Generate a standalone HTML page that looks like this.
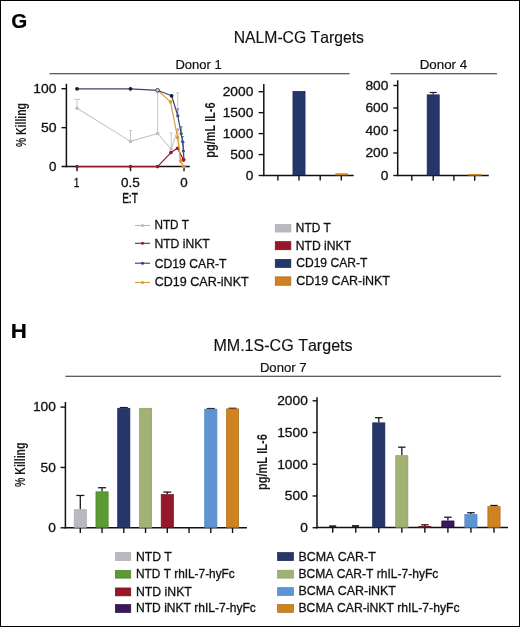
<!DOCTYPE html>
<html><head><meta charset="utf-8"><style>
html,body{margin:0;padding:0;background:#fff;}
svg{display:block;}
text{font-family:"Liberation Sans",sans-serif;font-kerning:none;}
</style></head><body>
<div style="will-change:transform;width:520px;height:627px"><svg width="520" height="627" viewBox="0 0 520 627">
<rect x="0.5" y="0.5" width="519" height="626" fill="none" stroke="#000" stroke-width="1"/>
<text x="11.26" y="28.40" font-size="20.3" textLength="16.02" lengthAdjust="spacingAndGlyphs" font-weight="bold" fill="#000" stroke="#000" stroke-width="0.2" >G</text>
<text x="233.71" y="42.90" font-size="16.5" textLength="130.16" lengthAdjust="spacingAndGlyphs" fill="#111" stroke="#111" stroke-width="0.15" >NALM-CG Targets</text>
<text x="175.43" y="69.40" font-size="12.8" textLength="46.20" lengthAdjust="spacingAndGlyphs" fill="#111" stroke="#111" stroke-width="0.2" >Donor 1</text>
<text x="419.71" y="69.40" font-size="12.8" textLength="47.49" lengthAdjust="spacingAndGlyphs" fill="#111" stroke="#111" stroke-width="0.2" >Donor 4</text>
<line x1="49.60" y1="73.70" x2="349.60" y2="73.70" stroke="#2a2a2a" stroke-width="1.1"/>
<line x1="390.40" y1="73.70" x2="497.00" y2="73.70" stroke="#2a2a2a" stroke-width="1.1"/>
<line x1="66.40" y1="83.80" x2="66.40" y2="167.30" stroke="#111" stroke-width="1.5"/>
<line x1="61.50" y1="166.60" x2="189.80" y2="166.60" stroke="#111" stroke-width="1.5"/>
<line x1="61.50" y1="88.70" x2="66.40" y2="88.70" stroke="#111" stroke-width="1.4"/>
<line x1="61.50" y1="127.65" x2="66.40" y2="127.65" stroke="#111" stroke-width="1.4"/>
<line x1="77.00" y1="166.60" x2="77.00" y2="171.20" stroke="#111" stroke-width="1.4"/>
<line x1="130.50" y1="166.60" x2="130.50" y2="171.20" stroke="#111" stroke-width="1.4"/>
<line x1="184.00" y1="166.60" x2="184.00" y2="171.20" stroke="#111" stroke-width="1.4"/>
<text x="33.34" y="92.90" font-size="12.4" textLength="23.20" lengthAdjust="spacingAndGlyphs" fill="#111" stroke="#111" stroke-width="0.3" >100</text>
<text x="40.94" y="131.90" font-size="12.4" textLength="15.61" lengthAdjust="spacingAndGlyphs" fill="#111" stroke="#111" stroke-width="0.3" >50</text>
<text x="49.08" y="170.90" font-size="12.4" textLength="7.45" lengthAdjust="spacingAndGlyphs" fill="#111" stroke="#111" stroke-width="0.3" >0</text>
<text x="73.82" y="186.50" font-size="12.4" textLength="5.68" lengthAdjust="spacingAndGlyphs" fill="#111" stroke="#111" stroke-width="0.3" >1</text>
<text x="120.97" y="186.50" font-size="12.4" textLength="18.80" lengthAdjust="spacingAndGlyphs" fill="#111" stroke="#111" stroke-width="0.3" >0.5</text>
<text x="180.28" y="186.50" font-size="12.4" textLength="7.45" lengthAdjust="spacingAndGlyphs" fill="#111" stroke="#111" stroke-width="0.3" >0</text>
<text x="122.17" y="202.70" font-size="15.0" textLength="15.66" lengthAdjust="spacingAndGlyphs" fill="#111" stroke="#111" stroke-width="0.5" >E:T</text>
<text transform="translate(26.00,146.80) rotate(-90)" x="-0.26" y="0" font-size="14.6" textLength="43.96" lengthAdjust="spacingAndGlyphs" font-weight="bold" fill="#1a1a1a">% Killing</text>
<line x1="77.00" y1="108.20" x2="77.00" y2="99.30" stroke="#c6c6ca" stroke-width="1.0"/><line x1="74.00" y1="99.30" x2="80.00" y2="99.30" stroke="#c6c6ca" stroke-width="1.0"/>
<line x1="130.50" y1="141.40" x2="130.50" y2="130.60" stroke="#c6c6ca" stroke-width="1.0"/><line x1="128.90" y1="130.60" x2="132.10" y2="130.60" stroke="#c6c6ca" stroke-width="1.0"/>
<line x1="157.60" y1="133.50" x2="157.60" y2="92.90" stroke="#c6c6ca" stroke-width="1.0"/><line x1="156.00" y1="92.90" x2="159.20" y2="92.90" stroke="#c6c6ca" stroke-width="1.0"/>
<line x1="171.20" y1="149.00" x2="171.20" y2="133.00" stroke="#c6c6ca" stroke-width="1.0"/><line x1="169.60" y1="133.00" x2="172.80" y2="133.00" stroke="#c6c6ca" stroke-width="1.0"/>
<line x1="177.70" y1="109.00" x2="177.70" y2="92.90" stroke="#c6c6ca" stroke-width="1.0"/><line x1="176.10" y1="92.90" x2="179.30" y2="92.90" stroke="#c6c6ca" stroke-width="1.0"/>
<polyline points="77.00,108.20 130.50,141.40 157.60,133.50 171.20,149.00 177.70,129.80 180.50,162.60 183.20,164.50" fill="none" stroke="#c6c6ca" stroke-width="1.1" stroke-linejoin="round"/>
<circle cx="77.00" cy="108.20" r="1.8" fill="#bdbdc1"/><circle cx="130.50" cy="141.40" r="1.8" fill="#bdbdc1"/><circle cx="157.60" cy="133.50" r="1.8" fill="#bdbdc1"/><circle cx="171.20" cy="149.00" r="1.8" fill="#bdbdc1"/><circle cx="177.70" cy="129.80" r="1.8" fill="#bdbdc1"/>
<polyline points="77.00,166.60 130.50,166.60 157.60,166.60 170.90,152.60 177.60,148.30 183.50,159.80" fill="none" stroke="#8f1a2a" stroke-width="1.2" stroke-linejoin="round"/>
<circle cx="77.00" cy="166.60" r="1.8" fill="#8f1a2a"/><circle cx="130.50" cy="166.60" r="1.8" fill="#8f1a2a"/><circle cx="157.60" cy="166.60" r="1.8" fill="#8f1a2a"/><circle cx="170.90" cy="152.60" r="1.8" fill="#8f1a2a"/><circle cx="177.60" cy="148.30" r="1.8" fill="#8f1a2a"/>
<circle cx="183.5" cy="159.8" r="2.1" fill="#b0141e"/>
<polyline points="157.60,90.30 170.50,101.90 177.60,137.60 180.60,161.00 183.70,166.60" fill="none" stroke="#dc9a3c" stroke-width="1.2" stroke-linejoin="round"/>
<circle cx="170.50" cy="101.90" r="1.8" fill="#dc9a3c"/><circle cx="177.60" cy="137.60" r="1.8" fill="#dc9a3c"/><circle cx="180.60" cy="161.00" r="1.8" fill="#dc9a3c"/><circle cx="183.70" cy="166.60" r="1.8" fill="#dc9a3c"/>
<line x1="177.80" y1="115.80" x2="177.80" y2="109.00" stroke="#3a5a9a" stroke-width="0.8"/><line x1="176.50" y1="109.00" x2="179.10" y2="109.00" stroke="#3a5a9a" stroke-width="0.8"/>
<line x1="181.20" y1="133.80" x2="181.20" y2="126.80" stroke="#3a5a9a" stroke-width="0.8"/><line x1="179.90" y1="126.80" x2="182.50" y2="126.80" stroke="#3a5a9a" stroke-width="0.8"/>
<line x1="182.50" y1="141.50" x2="182.50" y2="136.50" stroke="#3a5a9a" stroke-width="0.8"/><line x1="181.20" y1="136.50" x2="183.80" y2="136.50" stroke="#3a5a9a" stroke-width="0.8"/>
<line x1="183.40" y1="151.00" x2="183.40" y2="142.50" stroke="#3a5a9a" stroke-width="0.8"/><line x1="182.10" y1="142.50" x2="184.70" y2="142.50" stroke="#3a5a9a" stroke-width="0.8"/>
<polyline points="77.00,88.80 130.50,88.80 157.60,90.30 171.60,95.80 177.80,115.80 181.20,133.80 182.50,141.50 183.40,151.00 184.00,160.00" fill="none" stroke="#3a4666" stroke-width="1.2" stroke-linejoin="round"/>
<circle cx="77.00" cy="88.80" r="1.9" fill="#141c3a"/><circle cx="130.50" cy="88.80" r="1.9" fill="#141c3a"/><circle cx="171.60" cy="95.80" r="1.9" fill="#141c3a"/>
<circle cx="177.80" cy="115.80" r="1.6" fill="#34508a"/><circle cx="181.20" cy="133.80" r="1.6" fill="#34508a"/><circle cx="182.50" cy="141.50" r="1.6" fill="#34508a"/><circle cx="183.40" cy="151.00" r="1.6" fill="#34508a"/>
<circle cx="157.5" cy="90.2" r="1.8" fill="#dde" stroke="#1c2444" stroke-width="0.9"/>
<line x1="263.80" y1="84.00" x2="263.80" y2="176.00" stroke="#111" stroke-width="1.5"/>
<line x1="263.10" y1="175.40" x2="353.70" y2="175.40" stroke="#111" stroke-width="1.5"/>
<line x1="258.60" y1="175.50" x2="263.80" y2="175.50" stroke="#111" stroke-width="1.4"/>
<text x="245.68" y="179.80" font-size="12.4" textLength="7.65" lengthAdjust="spacingAndGlyphs" fill="#111" stroke="#111" stroke-width="0.3" >0</text>
<line x1="258.60" y1="154.55" x2="263.80" y2="154.55" stroke="#111" stroke-width="1.4"/>
<text x="230.37" y="158.85" font-size="12.4" textLength="22.96" lengthAdjust="spacingAndGlyphs" fill="#111" stroke="#111" stroke-width="0.3" >500</text>
<line x1="258.60" y1="133.60" x2="263.80" y2="133.60" stroke="#111" stroke-width="1.4"/>
<text x="222.72" y="137.90" font-size="12.4" textLength="30.62" lengthAdjust="spacingAndGlyphs" fill="#111" stroke="#111" stroke-width="0.3" >1000</text>
<line x1="258.60" y1="112.65" x2="263.80" y2="112.65" stroke="#111" stroke-width="1.4"/>
<text x="222.72" y="116.95" font-size="12.4" textLength="30.62" lengthAdjust="spacingAndGlyphs" fill="#111" stroke="#111" stroke-width="0.3" >1500</text>
<line x1="258.60" y1="91.70" x2="263.80" y2="91.70" stroke="#111" stroke-width="1.4"/>
<text x="222.72" y="96.00" font-size="12.4" textLength="30.62" lengthAdjust="spacingAndGlyphs" fill="#111" stroke="#111" stroke-width="0.3" >2000</text>
<line x1="277.90" y1="175.40" x2="277.90" y2="180.50" stroke="#111" stroke-width="1.4"/>
<line x1="299.00" y1="175.40" x2="299.00" y2="180.50" stroke="#111" stroke-width="1.4"/>
<line x1="320.20" y1="175.40" x2="320.20" y2="180.50" stroke="#111" stroke-width="1.4"/>
<line x1="341.30" y1="175.40" x2="341.30" y2="180.50" stroke="#111" stroke-width="1.4"/>
<rect x="292.95" y="91.35" width="12.10" height="83.70" fill="#25366b" stroke="#1a2850" stroke-width="0.7"/>
<rect x="335.40" y="173.30" width="12.60" height="2.00" fill="#cf821f"/>
<text transform="translate(214.50,157.00) rotate(-90)" x="-0.72" y="0" font-size="14.8" textLength="55.32" lengthAdjust="spacingAndGlyphs" font-weight="bold" fill="#1a1a1a">pg/mL IL-6</text>
<line x1="397.70" y1="80.30" x2="397.70" y2="176.10" stroke="#111" stroke-width="1.5"/>
<line x1="397.00" y1="175.50" x2="488.80" y2="175.50" stroke="#111" stroke-width="1.5"/>
<line x1="393.30" y1="175.50" x2="397.70" y2="175.50" stroke="#111" stroke-width="1.4"/>
<text x="380.78" y="179.80" font-size="12.4" textLength="7.65" lengthAdjust="spacingAndGlyphs" fill="#111" stroke="#111" stroke-width="0.3" >0</text>
<line x1="393.30" y1="153.00" x2="397.70" y2="153.00" stroke="#111" stroke-width="1.4"/>
<text x="365.47" y="157.30" font-size="12.4" textLength="22.96" lengthAdjust="spacingAndGlyphs" fill="#111" stroke="#111" stroke-width="0.3" >200</text>
<line x1="393.30" y1="130.50" x2="397.70" y2="130.50" stroke="#111" stroke-width="1.4"/>
<text x="365.47" y="134.80" font-size="12.4" textLength="22.96" lengthAdjust="spacingAndGlyphs" fill="#111" stroke="#111" stroke-width="0.3" >400</text>
<line x1="393.30" y1="108.00" x2="397.70" y2="108.00" stroke="#111" stroke-width="1.4"/>
<text x="365.47" y="112.30" font-size="12.4" textLength="22.96" lengthAdjust="spacingAndGlyphs" fill="#111" stroke="#111" stroke-width="0.3" >600</text>
<line x1="393.30" y1="85.50" x2="397.70" y2="85.50" stroke="#111" stroke-width="1.4"/>
<text x="365.47" y="89.80" font-size="12.4" textLength="22.96" lengthAdjust="spacingAndGlyphs" fill="#111" stroke="#111" stroke-width="0.3" >800</text>
<line x1="411.80" y1="175.50" x2="411.80" y2="180.80" stroke="#111" stroke-width="1.4"/>
<line x1="433.20" y1="175.50" x2="433.20" y2="180.80" stroke="#111" stroke-width="1.4"/>
<line x1="453.90" y1="175.50" x2="453.90" y2="180.80" stroke="#111" stroke-width="1.4"/>
<line x1="474.70" y1="175.50" x2="474.70" y2="180.80" stroke="#111" stroke-width="1.4"/>
<line x1="433.20" y1="94.60" x2="433.20" y2="92.50" stroke="#1a2030" stroke-width="1.2"/><line x1="429.70" y1="92.50" x2="436.70" y2="92.50" stroke="#1a2030" stroke-width="1.2"/>
<rect x="427.15" y="94.85" width="12.10" height="80.30" fill="#25366b" stroke="#1a2850" stroke-width="0.7"/>
<rect x="468.20" y="174.00" width="13.20" height="1.60" fill="#cf821f"/>
<line x1="135.00" y1="225.50" x2="150.00" y2="225.50" stroke="#b8b8bc" stroke-width="1.1"/>
<circle cx="142.5" cy="225.5" r="1.5" fill="#b8b8bc"/>
<line x1="135.00" y1="243.30" x2="150.00" y2="243.30" stroke="#8f1a2a" stroke-width="1.1"/>
<circle cx="142.5" cy="243.3" r="1.5" fill="#8f1a2a"/>
<line x1="135.00" y1="263.20" x2="150.00" y2="263.20" stroke="#2b4074" stroke-width="1.1"/>
<circle cx="142.5" cy="263.2" r="1.5" fill="#2b4074"/>
<line x1="135.00" y1="282.50" x2="150.00" y2="282.50" stroke="#d99a3a" stroke-width="1.1"/>
<circle cx="142.5" cy="282.5" r="1.5" fill="#d99a3a"/>
<text x="154.44" y="229.00" font-size="12.4" textLength="34.58" lengthAdjust="spacingAndGlyphs" fill="#111" stroke="#111" stroke-width="0.3" >NTD T</text>
<text x="154.40" y="247.60" font-size="12.4" textLength="55.38" lengthAdjust="spacingAndGlyphs" fill="#111" stroke="#111" stroke-width="0.3" >NTD iNKT</text>
<text x="154.78" y="267.70" font-size="12.4" textLength="71.70" lengthAdjust="spacingAndGlyphs" fill="#111" stroke="#111" stroke-width="0.3" >CD19 CAR-T</text>
<text x="154.76" y="286.30" font-size="12.4" textLength="93.92" lengthAdjust="spacingAndGlyphs" fill="#111" stroke="#111" stroke-width="0.3" >CD19 CAR-iNKT</text>
<rect x="275.25" y="224.55" width="15.60" height="7.50" fill="#bab9c0" stroke="#acabb3" stroke-width="0.7"/>
<text x="295.83" y="232.20" font-size="12.4" textLength="34.95" lengthAdjust="spacingAndGlyphs" fill="#111" stroke="#111" stroke-width="0.3" >NTD T</text>
<rect x="275.25" y="241.65" width="15.60" height="8.10" fill="#961828" stroke="#70101e" stroke-width="0.7"/>
<text x="295.80" y="249.60" font-size="12.4" textLength="55.27" lengthAdjust="spacingAndGlyphs" fill="#111" stroke="#111" stroke-width="0.3" >NTD iNKT</text>
<rect x="275.25" y="259.35" width="15.60" height="8.10" fill="#25366b" stroke="#1a2850" stroke-width="0.7"/>
<text x="296.19" y="267.40" font-size="12.4" textLength="71.19" lengthAdjust="spacingAndGlyphs" fill="#111" stroke="#111" stroke-width="0.3" >CD19 CAR-T</text>
<rect x="275.25" y="276.85" width="15.60" height="8.40" fill="#cf821f" stroke="#a86a1c" stroke-width="0.7"/>
<text x="296.16" y="285.10" font-size="12.4" textLength="93.82" lengthAdjust="spacingAndGlyphs" fill="#111" stroke="#111" stroke-width="0.3" >CD19 CAR-iNKT</text>
<text x="10.81" y="338.00" font-size="20.3" textLength="16.09" lengthAdjust="spacingAndGlyphs" font-weight="bold" fill="#000" stroke="#000" stroke-width="0.2" >H</text>
<text x="213.38" y="351.20" font-size="16.5" textLength="139.20" lengthAdjust="spacingAndGlyphs" fill="#111" stroke="#111" stroke-width="0.15" >MM.1S-CG Targets</text>
<text x="259.92" y="371.80" font-size="12.8" textLength="46.63" lengthAdjust="spacingAndGlyphs" fill="#111" stroke="#111" stroke-width="0.2" >Donor 7</text>
<line x1="65.40" y1="376.20" x2="501.00" y2="376.20" stroke="#2a2a2a" stroke-width="1.1"/>
<line x1="65.40" y1="402.00" x2="65.40" y2="528.50" stroke="#111" stroke-width="1.5"/>
<line x1="64.70" y1="527.80" x2="246.90" y2="527.80" stroke="#111" stroke-width="1.5"/>
<line x1="60.50" y1="527.80" x2="65.40" y2="527.80" stroke="#111" stroke-width="1.4"/>
<text x="48.28" y="532.10" font-size="12.4" textLength="7.65" lengthAdjust="spacingAndGlyphs" fill="#111" stroke="#111" stroke-width="0.3" >0</text>
<line x1="60.50" y1="467.45" x2="65.40" y2="467.45" stroke="#111" stroke-width="1.4"/>
<text x="40.63" y="471.75" font-size="12.4" textLength="15.31" lengthAdjust="spacingAndGlyphs" fill="#111" stroke="#111" stroke-width="0.3" >50</text>
<line x1="60.50" y1="407.10" x2="65.40" y2="407.10" stroke="#111" stroke-width="1.4"/>
<text x="32.97" y="411.40" font-size="12.4" textLength="22.96" lengthAdjust="spacingAndGlyphs" fill="#111" stroke="#111" stroke-width="0.3" >100</text>
<line x1="80.30" y1="527.80" x2="80.30" y2="533.00" stroke="#111" stroke-width="1.4"/>
<line x1="102.05" y1="527.80" x2="102.05" y2="533.00" stroke="#111" stroke-width="1.4"/>
<line x1="123.80" y1="527.80" x2="123.80" y2="533.00" stroke="#111" stroke-width="1.4"/>
<line x1="145.55" y1="527.80" x2="145.55" y2="533.00" stroke="#111" stroke-width="1.4"/>
<line x1="167.30" y1="527.80" x2="167.30" y2="533.00" stroke="#111" stroke-width="1.4"/>
<line x1="189.05" y1="527.80" x2="189.05" y2="533.00" stroke="#111" stroke-width="1.4"/>
<line x1="210.80" y1="527.80" x2="210.80" y2="533.00" stroke="#111" stroke-width="1.4"/>
<line x1="232.55" y1="527.80" x2="232.55" y2="533.00" stroke="#111" stroke-width="1.4"/>
<line x1="80.30" y1="509.33" x2="80.30" y2="495.45" stroke="#1a1a1a" stroke-width="1.3"/><line x1="76.30" y1="495.45" x2="84.30" y2="495.45" stroke="#1a1a1a" stroke-width="1.3"/>
<rect x="74.20" y="509.68" width="12.20" height="17.77" fill="#bab9c0" stroke="#acabb3" stroke-width="0.7"/>
<line x1="102.05" y1="491.47" x2="102.05" y2="487.73" stroke="#1a1a1a" stroke-width="1.3"/><line x1="98.05" y1="487.73" x2="106.05" y2="487.73" stroke="#1a1a1a" stroke-width="1.3"/>
<rect x="95.95" y="491.82" width="12.20" height="35.63" fill="#5a9b33" stroke="#48822a" stroke-width="0.7"/>
<line x1="123.80" y1="407.94" x2="123.80" y2="407.58" stroke="#1a1a1a" stroke-width="1.3"/><line x1="119.80" y1="407.58" x2="127.80" y2="407.58" stroke="#1a1a1a" stroke-width="1.3"/>
<rect x="117.70" y="408.29" width="12.20" height="119.16" fill="#25366b" stroke="#1a2850" stroke-width="0.7"/>
<rect x="139.45" y="408.29" width="12.20" height="119.16" fill="#a2b275" stroke="#8f9d68" stroke-width="0.7"/>
<line x1="167.30" y1="494.25" x2="167.30" y2="492.07" stroke="#1a1a1a" stroke-width="1.3"/><line x1="163.30" y1="492.07" x2="171.30" y2="492.07" stroke="#1a1a1a" stroke-width="1.3"/>
<rect x="161.20" y="494.60" width="12.20" height="32.85" fill="#961828" stroke="#70101e" stroke-width="0.7"/>
<line x1="210.80" y1="408.79" x2="210.80" y2="408.55" stroke="#1a1a1a" stroke-width="1.3"/><line x1="206.80" y1="408.55" x2="214.80" y2="408.55" stroke="#1a1a1a" stroke-width="1.3"/>
<rect x="204.70" y="409.14" width="12.20" height="118.31" fill="#5f94d2" stroke="#5581bd" stroke-width="0.7"/>
<line x1="232.55" y1="408.55" x2="232.55" y2="408.31" stroke="#1a1a1a" stroke-width="1.3"/><line x1="228.55" y1="408.31" x2="236.55" y2="408.31" stroke="#1a1a1a" stroke-width="1.3"/>
<rect x="226.45" y="408.90" width="12.20" height="118.55" fill="#cf821f" stroke="#a86a1c" stroke-width="0.7"/>
<text transform="translate(24.80,486.70) rotate(-90)" x="-0.26" y="0" font-size="14.6" textLength="44.36" lengthAdjust="spacingAndGlyphs" font-weight="bold" fill="#1a1a1a">% Killing</text>
<line x1="317.00" y1="397.20" x2="317.00" y2="528.40" stroke="#111" stroke-width="1.5"/>
<line x1="316.30" y1="527.60" x2="508.10" y2="527.60" stroke="#111" stroke-width="1.5"/>
<line x1="312.60" y1="527.70" x2="317.00" y2="527.70" stroke="#111" stroke-width="1.4"/>
<text x="300.18" y="532.00" font-size="12.4" textLength="7.65" lengthAdjust="spacingAndGlyphs" fill="#111" stroke="#111" stroke-width="0.3" >0</text>
<line x1="312.60" y1="495.98" x2="317.00" y2="495.98" stroke="#111" stroke-width="1.4"/>
<text x="284.87" y="500.28" font-size="12.4" textLength="22.96" lengthAdjust="spacingAndGlyphs" fill="#111" stroke="#111" stroke-width="0.3" >500</text>
<line x1="312.60" y1="464.25" x2="317.00" y2="464.25" stroke="#111" stroke-width="1.4"/>
<text x="277.22" y="468.55" font-size="12.4" textLength="30.62" lengthAdjust="spacingAndGlyphs" fill="#111" stroke="#111" stroke-width="0.3" >1000</text>
<line x1="312.60" y1="432.53" x2="317.00" y2="432.53" stroke="#111" stroke-width="1.4"/>
<text x="277.22" y="436.83" font-size="12.4" textLength="30.62" lengthAdjust="spacingAndGlyphs" fill="#111" stroke="#111" stroke-width="0.3" >1500</text>
<line x1="312.60" y1="400.80" x2="317.00" y2="400.80" stroke="#111" stroke-width="1.4"/>
<text x="277.22" y="405.10" font-size="12.4" textLength="30.62" lengthAdjust="spacingAndGlyphs" fill="#111" stroke="#111" stroke-width="0.3" >2000</text>
<line x1="332.70" y1="527.60" x2="332.70" y2="532.80" stroke="#111" stroke-width="1.4"/>
<line x1="355.74" y1="527.60" x2="355.74" y2="532.80" stroke="#111" stroke-width="1.4"/>
<line x1="378.78" y1="527.60" x2="378.78" y2="532.80" stroke="#111" stroke-width="1.4"/>
<line x1="401.82" y1="527.60" x2="401.82" y2="532.80" stroke="#111" stroke-width="1.4"/>
<line x1="424.86" y1="527.60" x2="424.86" y2="532.80" stroke="#111" stroke-width="1.4"/>
<line x1="447.90" y1="527.60" x2="447.90" y2="532.80" stroke="#111" stroke-width="1.4"/>
<line x1="470.94" y1="527.60" x2="470.94" y2="532.80" stroke="#111" stroke-width="1.4"/>
<line x1="493.98" y1="527.60" x2="493.98" y2="532.80" stroke="#111" stroke-width="1.4"/>
<rect x="329.20" y="525.30" width="7.00" height="1.80" fill="#222"/>
<rect x="352.00" y="525.00" width="7.00" height="2.00" fill="#2c3520"/>
<line x1="378.78" y1="422.50" x2="378.78" y2="417.68" stroke="#1a1a1a" stroke-width="1.3"/><line x1="375.03" y1="417.68" x2="382.53" y2="417.68" stroke="#1a1a1a" stroke-width="1.3"/>
<rect x="372.68" y="422.85" width="12.20" height="104.40" fill="#25366b" stroke="#1a2850" stroke-width="0.7"/>
<line x1="401.82" y1="455.30" x2="401.82" y2="447.18" stroke="#1a1a1a" stroke-width="1.3"/><line x1="398.07" y1="447.18" x2="405.57" y2="447.18" stroke="#1a1a1a" stroke-width="1.3"/>
<rect x="395.72" y="455.65" width="12.20" height="71.60" fill="#a2b275" stroke="#8f9d68" stroke-width="0.7"/>
<line x1="424.86" y1="526.11" x2="424.86" y2="524.84" stroke="#1a1a1a" stroke-width="1.3"/><line x1="421.11" y1="524.84" x2="428.61" y2="524.84" stroke="#1a1a1a" stroke-width="1.3"/>
<rect x="418.76" y="526.46" width="12.20" height="0.79" fill="#961828" stroke="#70101e" stroke-width="0.7"/>
<line x1="447.90" y1="520.59" x2="447.90" y2="517.23" stroke="#1a1a1a" stroke-width="1.3"/><line x1="444.15" y1="517.23" x2="451.65" y2="517.23" stroke="#1a1a1a" stroke-width="1.3"/>
<rect x="441.80" y="520.94" width="12.20" height="6.31" fill="#38195c" stroke="#250d40" stroke-width="0.7"/>
<line x1="470.94" y1="514.12" x2="470.94" y2="512.73" stroke="#1a1a1a" stroke-width="1.3"/><line x1="467.19" y1="512.73" x2="474.69" y2="512.73" stroke="#1a1a1a" stroke-width="1.3"/>
<rect x="464.84" y="514.47" width="12.20" height="12.78" fill="#5f94d2" stroke="#5581bd" stroke-width="0.7"/>
<line x1="493.98" y1="506.25" x2="493.98" y2="505.49" stroke="#1a1a1a" stroke-width="1.3"/><line x1="490.23" y1="505.49" x2="497.73" y2="505.49" stroke="#1a1a1a" stroke-width="1.3"/>
<rect x="487.88" y="506.60" width="12.20" height="20.65" fill="#cf821f" stroke="#a86a1c" stroke-width="0.7"/>
<text transform="translate(267.10,489.40) rotate(-90)" x="-0.73" y="0" font-size="14.8" textLength="55.93" lengthAdjust="spacingAndGlyphs" font-weight="bold" fill="#1a1a1a">pg/mL IL-6</text>
<rect x="115.35" y="552.55" width="15.40" height="7.90" fill="#bab9c0" stroke="#acabb3" stroke-width="0.7"/>
<text x="136.00" y="560.90" font-size="12.2" textLength="35.78" lengthAdjust="spacingAndGlyphs" fill="#111" stroke="#111" stroke-width="0.3" >NTD T</text>
<rect x="115.35" y="570.35" width="15.40" height="7.80" fill="#5a9b33" stroke="#48822a" stroke-width="0.7"/>
<text x="136.03" y="577.70" font-size="12.2" textLength="98.78" lengthAdjust="spacingAndGlyphs" fill="#111" stroke="#111" stroke-width="0.3" >NTD T rhIL-7-hyFc</text>
<rect x="115.35" y="587.95" width="15.40" height="7.90" fill="#961828" stroke="#70101e" stroke-width="0.7"/>
<text x="136.00" y="595.60" font-size="12.2" textLength="55.79" lengthAdjust="spacingAndGlyphs" fill="#111" stroke="#111" stroke-width="0.3" >NTD iNKT</text>
<rect x="115.35" y="604.55" width="15.40" height="7.90" fill="#38195c" stroke="#250d40" stroke-width="0.7"/>
<text x="136.01" y="612.20" font-size="12.2" textLength="119.91" lengthAdjust="spacingAndGlyphs" fill="#111" stroke="#111" stroke-width="0.3" >NTD iNKT rhIL-7-hyFc</text>
<rect x="277.55" y="552.55" width="15.90" height="8.10" fill="#25366b" stroke="#1a2850" stroke-width="0.7"/>
<text x="298.48" y="560.90" font-size="12.2" textLength="77.30" lengthAdjust="spacingAndGlyphs" fill="#111" stroke="#111" stroke-width="0.3" >BCMA CAR-T</text>
<rect x="277.55" y="570.25" width="15.90" height="7.90" fill="#a2b275" stroke="#8f9d68" stroke-width="0.7"/>
<text x="298.51" y="577.80" font-size="12.2" textLength="139.81" lengthAdjust="spacingAndGlyphs" fill="#111" stroke="#111" stroke-width="0.3" >BCMA CAR-T rhIL-7-hyFc</text>
<rect x="277.55" y="587.65" width="15.90" height="7.80" fill="#5f94d2" stroke="#5581bd" stroke-width="0.7"/>
<text x="298.48" y="595.30" font-size="12.2" textLength="97.41" lengthAdjust="spacingAndGlyphs" fill="#111" stroke="#111" stroke-width="0.3" >BCMA CAR-iNKT</text>
<rect x="277.55" y="604.55" width="15.90" height="7.80" fill="#cf821f" stroke="#a86a1c" stroke-width="0.7"/>
<text x="298.50" y="612.20" font-size="12.2" textLength="161.02" lengthAdjust="spacingAndGlyphs" fill="#111" stroke="#111" stroke-width="0.3" >BCMA CAR-iNKT rhIL-7-hyFc</text>
</svg></div>
</body></html>
